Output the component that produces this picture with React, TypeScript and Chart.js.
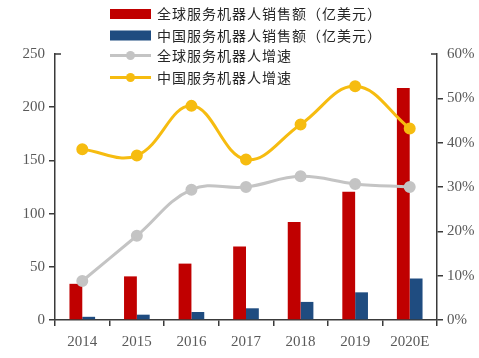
import React, { useEffect, useRef } from "react";
import { Chart, registerables } from "chart.js";

Chart.register(...registerables);

const categories = ["2014", "2015", "2016", "2017", "2018", "2019", "2020E"];
const globalSales = [34, 41, 53, 69, 92, 120.5, 218];
const chinaSales = [3, 5, 7.5, 11, 17, 26, 39];
const globalGrowth = [8.8, 19.0, 29.4, 30.0, 32.4, 30.7, 30.0];
const chinaGrowth = [38.5, 37.1, 48.3, 36.2, 44.1, 52.7, 43.2];
const leftTicks = [0, 50, 100, 150, 200, 250];
const rightTicks = [0, 10, 20, 30, 40, 50, 60];
const seriesNames = [
  "全球服务机器人销售额（亿美元）",
  "中国服务机器人销售额（亿美元）",
  "全球服务机器人增速",
  "中国服务机器人增速",
];

const RED = "#C00000";
const BLUE = "#1F4C80";
const GRAY = "#C4C4C4";
const YELLOW = "#F6BC10";
const AXIS = "#3a3a3a";
const TICKTXT = "#595959";

const legendPlugin = {
  id: "customLegend",
  afterDraw(chart: any) {
    const ctx = chart.ctx;
    ctx.save();
    const items = [
      { name: seriesNames[0], color: RED, type: "box", y: 14 },
      { name: seriesNames[1], color: BLUE, type: "box", y: 35.5 },
      { name: seriesNames[2], color: GRAY, type: "line", y: 55.5 },
      { name: seriesNames[3], color: YELLOW, type: "line", y: 77.5 },
    ];
    for (const it of items) {
      if (it.type === "box") {
        ctx.fillStyle = it.color;
        ctx.fillRect(110, it.y - 5, 41, 10);
      } else {
        ctx.strokeStyle = it.color;
        ctx.lineWidth = 3;
        ctx.beginPath();
        ctx.moveTo(110, it.y);
        ctx.lineTo(151, it.y);
        ctx.stroke();
        ctx.fillStyle = it.color;
        ctx.beginPath();
        ctx.arc(130.5, it.y, 4.5, 0, Math.PI * 2);
        ctx.fill();
      }
      ctx.fillStyle = "#262626";
      ctx.font = '14px "Noto Sans CJK SC"';
      (ctx as any).letterSpacing = "1px";
      ctx.textBaseline = "middle";
      ctx.textAlign = "left";
      ctx.fillText(it.name, 157, it.y);
    }
    (ctx as any).letterSpacing = "0px";
    // inside top ticks
    const area = chart.chartArea;
    ctx.strokeStyle = AXIS;
    ctx.lineWidth = 1.5;
    ctx.beginPath();
    ctx.moveTo(area.left, area.top);
    ctx.lineTo(area.left + 6, area.top);
    ctx.moveTo(area.right, area.top);
    ctx.lineTo(area.right - 6, area.top);
    ctx.stroke();
    ctx.restore();
  },
};

export default function App() {
  const ref = useRef<HTMLCanvasElement | null>(null);
  useEffect(() => {
    document.body.style.margin = "0";
    const canvas = ref.current!;
    const tickColor = (ctx: any) =>
      ctx.index === ctx.scale.ticks.length - 1 ? "rgba(0,0,0,0)" : AXIS;
    const chart = new Chart(canvas, {
      type: "bar",
      data: {
        labels: categories,
        datasets: [
          {
            type: "line",
            label: seriesNames[2],
            data: globalGrowth,
            yAxisID: "y1",
            borderColor: GRAY,
            backgroundColor: GRAY,
            borderWidth: 3,
            pointRadius: 4.5,
            pointBackgroundColor: GRAY,
            pointBorderColor: GRAY,
            tension: 0.4,
            order: 1,
          } as any,
          {
            type: "line",
            label: seriesNames[3],
            data: chinaGrowth,
            yAxisID: "y1",
            borderColor: YELLOW,
            backgroundColor: YELLOW,
            borderWidth: 3,
            pointRadius: 4.5,
            pointBackgroundColor: YELLOW,
            pointBorderColor: YELLOW,
            tension: 0.4,
            order: 1,
          } as any,
          {
            type: "bar",
            label: seriesNames[0],
            data: globalSales,
            yAxisID: "y",
            backgroundColor: RED,
            categoryPercentage: 0.47,
            barPercentage: 1,
            order: 2,
          } as any,
          {
            type: "bar",
            label: seriesNames[1],
            data: chinaSales,
            yAxisID: "y",
            backgroundColor: BLUE,
            categoryPercentage: 0.47,
            barPercentage: 1,
            order: 2,
          } as any,
        ],
      },
      options: {
        responsive: false,
        animation: false,
        devicePixelRatio: 1,
        layout: { padding: { top: 54, left: 0, right: 0, bottom: 0 } },
        plugins: { legend: { display: false }, tooltip: { enabled: false } },
        scales: {
          x: {
            offset: true,
            grid: {
              offset: true,
              drawOnChartArea: false,
              drawTicks: true,
              tickLength: 6,
              color: AXIS,
              lineWidth: 1.5,
            },
            border: { display: true, color: AXIS, width: 1.5 },
            ticks: {
              color: TICKTXT,
              font: { family: '"Liberation Serif"', size: 15 },
              padding: 7,
              maxRotation: 0,
            },
            afterFit: (s: any) => {
              s.height = 38;
            },
          },
          y: {
            position: "left",
            min: 0,
            max: 250,
            afterBuildTicks: (s: any) => {
              s.ticks = leftTicks.map((v) => ({ value: v }));
            },
            grid: {
              drawOnChartArea: false,
              drawTicks: true,
              tickLength: 6,
              color: tickColor,
              lineWidth: 1.5,
            },
            border: { display: true, color: AXIS, width: 1.5 },
            ticks: {
              color: TICKTXT,
              font: { family: '"Liberation Serif"', size: 15 },
              padding: 4,
            },
            afterFit: (s: any) => {
              s.width = 55;
            },
          },
          y1: {
            position: "right",
            min: 0,
            max: 60,
            afterBuildTicks: (s: any) => {
              s.ticks = rightTicks.map((v) => ({ value: v }));
            },
            grid: {
              drawOnChartArea: false,
              drawTicks: true,
              tickLength: 6,
              color: tickColor,
              lineWidth: 1.5,
            },
            border: { display: true, color: AXIS, width: 1.5 },
            ticks: {
              color: TICKTXT,
              font: { family: '"Liberation Serif"', size: 15 },
              padding: 4,
              callback: (v: any) => v + "%",
            },
            afterFit: (s: any) => {
              s.width = 42;
            },
          },
        },
      },
      plugins: [legendPlugin],
    });
    return () => chart.destroy();
  }, []);
  return (
    <div style={{ width: 479, height: 358 }}>
      <canvas ref={ref} width={479} height={358} style={{ display: "block" }} />
    </div>
  );
}
